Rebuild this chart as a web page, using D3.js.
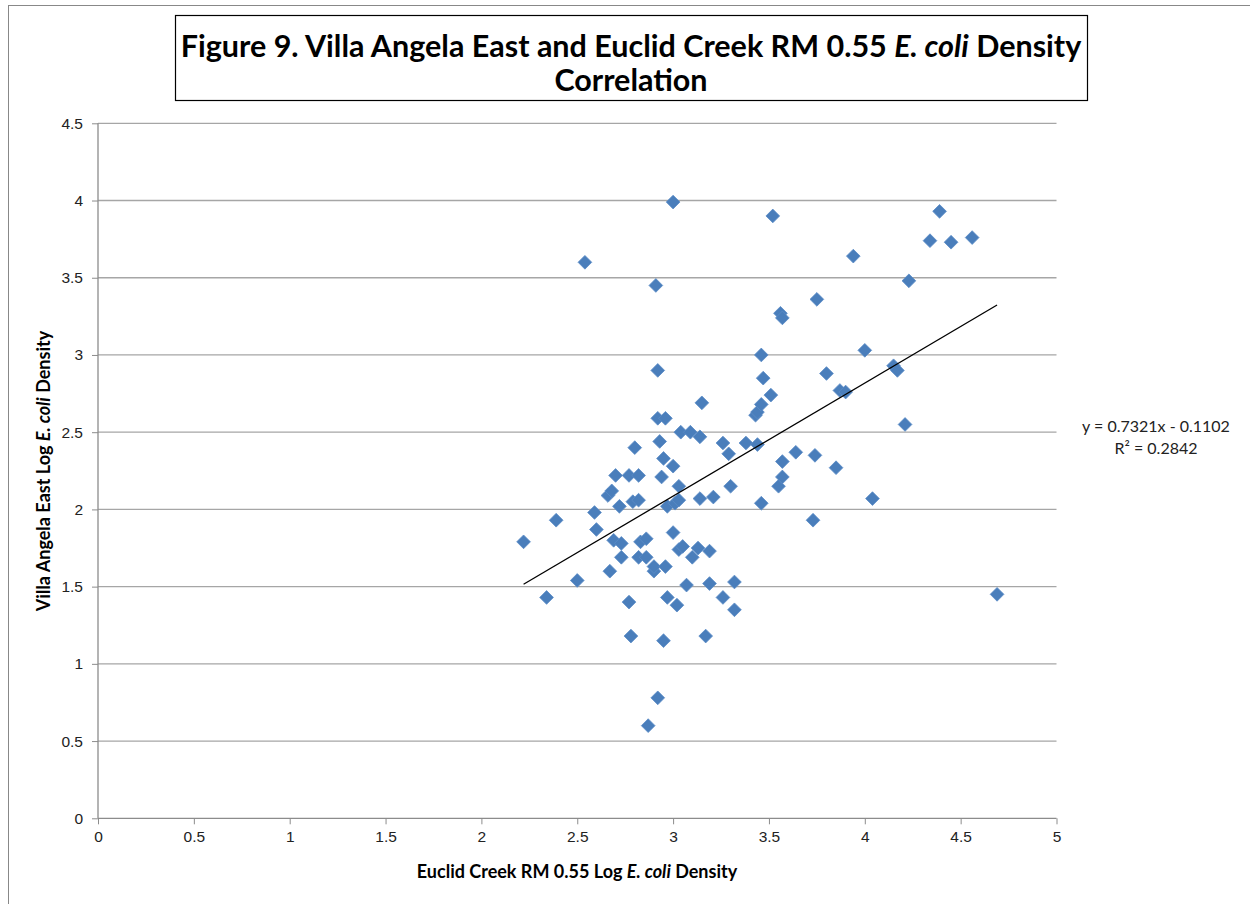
<!DOCTYPE html>
<html>
<head>
<meta charset="utf-8">
<script src="https://cdn.jsdelivr.net/npm/d3@7"></script>
<style>
  body { margin: 0; background: #fff; }
  svg { display: block; font-family: Lato, "Open Sans", sans-serif; }
  .tick text { font-size: 15.5px; fill: #222; }
  .axis path, .axis line { stroke: #8c8c8c; }
  .grid line { stroke: #a6a6a6; stroke-width: 1.3; }
  .axis-label { font-size: 18px; font-weight: bold; }
  .chart-title { font-size: 30.5px; font-weight: bold; }
  .eq { font-size: 16px; fill: #222; }
</style>
</head>
<body>
<script>
// Figure 9 - E. coli density correlation scatter

const w = 1250;
const h = 904;

// Euclid Creek RM 0.55 log density (x)
const creekLog = [
  2.22, 2.39, 2.34, 2.50, 2.54, 2.59, 2.60, 2.67, 2.66, 2.68,
  2.70, 2.69, 2.73, 2.72, 2.73, 2.77, 2.77, 2.78, 2.80, 2.79,
  2.82, 2.82, 2.82, 2.83, 2.86, 2.86, 2.87, 2.90, 2.90, 2.91,
  2.92, 2.92, 2.93, 2.92, 2.94, 2.95, 2.95, 2.96, 2.96, 2.97,
  2.97, 3.00, 3.00, 3.00, 3.02, 3.01, 3.03, 3.03, 3.04, 3.05,
  3.03, 3.07, 3.09, 3.10, 3.14, 3.15, 3.13, 3.14, 3.17, 3.19,
  3.19, 3.21, 3.26, 3.26, 3.29, 3.30, 3.32, 3.32, 3.38, 3.43,
  3.44, 3.44, 3.46, 3.46, 3.47, 3.46, 3.51, 3.52, 3.56, 3.57,
  3.57, 3.55, 3.57, 3.64, 3.73, 3.74, 3.75, 3.80, 3.85, 3.87,
  3.90, 3.94, 4.00, 4.04, 4.15, 4.17, 4.21, 4.23, 4.34, 4.39,
  4.45, 4.56, 4.69
];

// Villa Angela East log density (y)
const villaLog = [
  1.79, 1.93, 1.43, 1.54, 3.60, 1.98, 1.87, 1.60, 2.09, 2.12,
  2.22, 1.80, 1.78, 2.02, 1.69, 2.22, 1.40, 1.18, 2.40, 2.05,
  2.22, 2.06, 1.69, 1.79, 1.81, 1.69, 0.60, 1.60, 1.63, 3.45,
  0.78, 2.90, 2.44, 2.59, 2.21, 1.15, 2.33, 2.59, 1.63, 1.43,
  2.02, 2.28, 1.85, 3.99, 1.38, 2.04, 2.15, 1.74, 2.50, 1.76,
  2.06, 1.51, 2.50, 1.69, 2.47, 2.69, 1.75, 2.07, 1.18, 1.73,
  1.52, 2.08, 1.43, 2.43, 2.36, 2.15, 1.53, 1.35, 2.43, 2.61,
  2.63, 2.42, 3.00, 2.68, 2.85, 2.04, 2.74, 3.90, 3.27, 3.24,
  2.31, 2.15, 2.21, 2.37, 1.93, 2.35, 3.36, 2.88, 2.27, 2.77,
  2.76, 3.64, 3.03, 2.07, 2.93, 2.90, 2.55, 3.48, 3.74, 3.93,
  3.73, 3.76, 1.45
];

// Excel linear trendline
const slope = 0.7321;
const intercept = -0.1102;
const rSquared = 0.2842;

const xTicks = [0, 0.5, 1, 1.5, 2, 2.5, 3, 3.5, 4, 4.5, 5];
const yTicks = [0, 0.5, 1, 1.5, 2, 2.5, 3, 3.5, 4, 4.5];

const points = creekLog.map((x, i) => ({ x: x, y: villaLog[i] }));

// Plot area
const plotLeft = 98, plotRight = 1056.5, plotTop = 123.3, plotBottom = 818.3;

const xScale = d3.scaleLinear().domain([0, 5]).range([plotLeft, plotRight]);
const yScale = d3.scaleLinear().domain([0, 4.5]).range([plotBottom, plotTop]);

const svg = d3.select("body")
  .append("svg")
  .attr("width", w)
  .attr("height", h);

// Outer chart border
svg.append("rect")
   .attr("x", 8.5).attr("y", 5.5)
   .attr("width", w + 10).attr("height", h + 10)
   .attr("fill", "none")
   .attr("stroke", "#888");

// Horizontal gridlines
svg.append("g")
   .attr("class", "grid")
   .selectAll("line")
   .data(yTicks.filter(d => d > 0))
   .join("line")
   .attr("x1", plotLeft).attr("x2", plotRight)
   .attr("y1", d => yScale(d)).attr("y2", d => yScale(d));

// Axes
const bottomAxis = d3.axisBottom(xScale)
  .tickValues(xTicks)
  .tickFormat(d3.format("~g"))
  .tickSize(6)
  .tickPadding(7);

const leftAxis = d3.axisLeft(yScale)
  .tickValues(yTicks)
  .tickFormat(d3.format("~g"))
  .tickSize(6)
  .tickPadding(9);

svg.append("g")
   .attr("class", "axis")
   .attr("transform", "translate(0," + plotBottom + ")")
   .call(bottomAxis)
   .call(g => g.select(".domain").attr("d", "M" + plotLeft + ",0H" + plotRight).attr("stroke-width", 1.3));

svg.append("g")
   .attr("class", "axis")
   .attr("transform", "translate(" + plotLeft + ",0)")
   .call(leftAxis)
   .call(g => g.select(".domain").attr("d", "M0," + plotTop + "V" + plotBottom).attr("stroke-width", 1.3));

// Markers
svg.append("g")
   .selectAll("path")
   .data(points)
   .join("path")
   .attr("transform", d => "translate(" + xScale(d.x) + "," + yScale(d.y) + ")")
   .attr("d", d3.symbol(d3.symbolDiamond2, 120))
   .attr("fill", "#4a7ebb")
   .attr("stroke", "#5b8cc6")
   .attr("stroke-width", 0.8);

// Trendline
const xExtent = d3.extent(creekLog);
const trend = xExtent.map(x => ({ x: x, y: slope * x + intercept }));
svg.append("path")
   .datum(trend)
   .attr("d", d3.line().x(d => xScale(d.x)).y(d => yScale(d.y)))
   .attr("stroke", "#000")
   .attr("stroke-width", 1.3)
   .attr("fill", "none");

// Trendline label
svg.append("text")
   .attr("class", "eq")
   .attr("x", 1156).attr("y", 432)
   .attr("text-anchor", "middle")
   .text("y = " + slope + "x - " + Math.abs(intercept));
svg.append("text")
   .attr("class", "eq")
   .attr("x", 1156).attr("y", 454)
   .attr("text-anchor", "middle")
   .text("R² = " + rSquared);

// Title box
svg.append("rect")
   .attr("x", 175.5).attr("y", 15.5)
   .attr("width", 912).attr("height", 85)
   .attr("fill", "#fff")
   .attr("stroke", "#000")
   .attr("stroke-width", 1.2);

const title = svg.append("text")
   .attr("class", "chart-title")
   .attr("x", 631)
   .attr("y", 57)
   .attr("text-anchor", "middle");
title.append("tspan").text("Figure 9. Villa Angela East and Euclid Creek RM 0.55 ");
title.append("tspan").attr("font-style", "italic").text("E. coli");
title.append("tspan").text(" Density");
svg.append("text")
   .attr("class", "chart-title")
   .attr("x", 631)
   .attr("y", 91)
   .attr("text-anchor", "middle")
   .text("Correlation");

// X-axis label
const xLabel = svg.append("text")
   .attr("class", "axis-label")
   .attr("x", 577)
   .attr("y", 878)
   .attr("text-anchor", "middle");
xLabel.append("tspan").text("Euclid Creek RM 0.55 Log ");
xLabel.append("tspan").attr("font-style", "italic").text("E. coli");
xLabel.append("tspan").text(" Density");

// Y-axis label
const yLabel = svg.append("text")
   .attr("class", "axis-label")
   .attr("transform", "rotate(-90)")
   .attr("x", -471)
   .attr("y", 50)
   .attr("text-anchor", "middle");
yLabel.append("tspan").text("Villa Angela East Log ");
yLabel.append("tspan").attr("font-style", "italic").text("E. coli");
yLabel.append("tspan").text(" Density");
</script>
</body>
</html>
